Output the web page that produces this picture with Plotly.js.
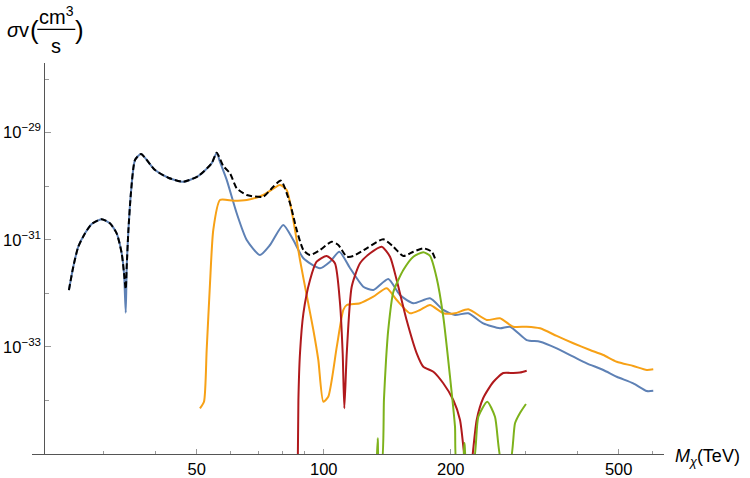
<!DOCTYPE html>
<html>
<head>
<meta charset="utf-8">
<script src="https://cdn.plot.ly/plotly-3.0.1.min.js"></script>
<style>
    html, body { margin: 0; padding: 0; background: #fff; }
    #chart { width: 750px; height: 478px; }
</style>
</head>
<body>
<div id="chart"></div>
<script>
// Cross section sigma*v (cm^3/s) against M_chi (TeV)

const blueMass = [24.9, 25.5, 26.2, 27.19, 28.19, 29.78, 31.15, 32.31, 33.21, 33.63, 33.95, 34.13, 34.43, 34.94, 35.71, 36.9,
    39.83, 42.82, 46.47, 50.44, 54.27, 55.77, 56.78, 58.9, 62.2, 65.7, 70.6, 74.6, 80.2, 84.7, 89.5, 98.0, 103.5, 108.9,
    115.4, 124.1, 131.1, 142.2, 151.6, 163.1, 178.6, 192.0, 204.7, 220.1, 238.8, 261.6, 276.3, 302.7, 325.6, 356.6,
    390.4, 420.1, 459.8, 494.7, 541.5, 582.7, 603.9];
const blueSv = [1.15e-32, 3.14e-32, 7.41e-32, 1.32e-31, 1.97e-31, 2.42e-31, 2.03e-31, 1.32e-31, 5.58e-32, 2.37e-32, 4.35e-33,
    3.14e-32, 1.40e-31, 7.80e-31, 3.08e-30, 3.99e-30, 2.00e-30, 1.44e-30, 1.21e-30, 1.55e-30, 2.68e-30, 4.23e-30,
    2.83e-30, 1.31e-30, 3.12e-31, 9.9e-32, 5.19e-32, 7.98e-32, 1.89e-31, 9.9e-32, 4.51e-32, 2.93e-32, 3.89e-32, 5.98e-32,
    2.97e-32, 1.33e-32, 1.15e-32, 1.85e-32, 9.31e-33, 6.52e-33, 8.07e-33, 4.89e-33, 3.94e-33, 4.24e-33, 2.75e-33,
    2.22e-33, 2.38e-33, 1.34e-33, 1.25e-33, 9.4e-34, 6.56e-34, 4.93e-34, 3.70e-34, 2.77e-34, 2.09e-34, 1.50e-34, 1.51e-34];

const orangeMass = [50.9, 52.03, 52.8, 53.77, 54.74, 56.78, 61.07, 65.7, 71.9, 78.8, 81.7, 84.7, 87.86, 91.9, 94.5, 97.1,
    99.8, 102.5, 107.4, 111.3, 113.4, 121.9, 131.1, 141.0, 148.9, 160.1, 169.1, 178.6, 192.0, 204.7, 220.1, 243.3,
    261.6, 281.3, 302.7, 325.6, 356.6, 390.4, 427.6, 459.8, 494.7, 541.5, 582.7, 603.9];
const orangeSv = [7.13e-35, 9.46e-35, 8.75e-34, 1.54e-32, 1.52e-31, 5.52e-31, 5.36e-31, 5.52e-31, 6.85e-31, 1.05e-30,
    8.49e-31, 2.34e-31, 4.19e-32, 6.52e-33, 2.07e-33, 5.69e-34, 9.46e-35, 1.17e-34, 1.01e-33, 4.89e-33, 6.05e-33,
    6.52e-33, 8.65e-33, 1.24e-32, 7.50e-33, 4.24e-33, 4.89e-33, 6.05e-33, 4.24e-33, 4.24e-33, 5.04e-33, 3.18e-33,
    3.42e-33, 2.38e-33, 2.38e-33, 2.22e-33, 1.60e-33, 1.17e-33, 8.75e-34, 7.05e-34, 5.28e-34, 4.40e-34, 3.70e-34, 3.81e-34];

const redMass = [86.6, 87.1, 87.86, 89.5, 92.8, 96.2, 101.6, 106.3, 109.3, 110.9, 111.9, 113.4, 116.5, 121.9, 128.8, 137.2,
    143.6, 148.9, 157.2, 166.1, 172.2, 181.9, 192.0, 202.8, 210.4, 216.2, 219.8, 224.3, 230.4, 238.8, 252.2, 266.4,
    281.3, 291.8, 302.7];
const redSv = [1e-36, 1.02e-34, 7.59e-34, 4.24e-33, 1.77e-32, 3.89e-32, 4.98e-32, 3.63e-32, 6.52e-33, 7.59e-34, 7.13e-35,
    7.59e-34, 1.33e-32, 3.63e-32, 5.58e-32, 7.41e-32, 4.83e-32, 1.77e-32, 3.18e-33, 7.59e-34, 4.27e-34, 3.44e-34,
    2.09e-34, 1.02e-34, 4.32e-35, 7e-36, 3e-36, 7e-36, 4.32e-35, 1.11e-34, 2.21e-34, 3.25e-34, 3.25e-34, 3.32e-34, 3.59e-34];

const greenMass = [133.5, 134.3, 135.2, 137.2, 138.9, 140.5, 142.2, 146.2, 154.4, 163.1, 172.2, 178.6, 185.2, 192.0,
    199.2, 204.7, 206.6, 213.3, 215.6, 217.9, 226.2, 232.5, 244.1, 254.6, 264.1, 276.3, 284.0, 291.8, 301.5];
const greenSv = [7e-36, 1.96e-35, 7e-36, 7e-36, 1.02e-34, 5.69e-34, 2.07e-33, 1.06e-32, 2.72e-32, 4.83e-32, 5.83e-32,
    4.98e-32, 1.93e-32, 3.66e-33, 2.77e-34, 3.24e-35, 7e-36, 7e-36, 1.60e-35, 7e-36, 7e-36, 4.97e-35, 9.46e-35,
    4.97e-35, 7e-36, 7e-36, 3.74e-35, 5.83e-35, 8.58e-35];

const totalMass = [24.9, 25.5, 26.2, 27.19, 28.19, 29.78, 31.15, 32.31, 33.21, 33.63, 33.95, 34.13, 34.43, 34.94, 35.71,
    36.9, 39.83, 42.82, 46.47, 50.44, 54.27, 55.77, 57.8, 59.97, 62.2, 65.7, 71.9, 75.95, 79.2, 83.2, 86.3, 89.5, 92.8,
    98.0, 104.4, 108.3, 113.4, 117.5, 126.4, 138.4, 146.2, 154.4, 163.1, 172.2, 180.3, 183.5];
const totalSv = [1.15e-32, 3.14e-32, 7.41e-32, 1.32e-31, 1.97e-31, 2.42e-31, 2.03e-31, 1.32e-31, 5.58e-32, 2.37e-32,
    1.2e-32, 3.14e-32, 1.40e-31, 7.80e-31, 3.08e-30, 3.99e-30, 2.00e-30, 1.44e-30, 1.21e-30, 1.55e-30, 2.68e-30,
    4.23e-30, 2.38e-30, 1.74e-30, 9.14e-31, 6.85e-31, 6.37e-31, 9.79e-31, 1.27e-30, 4.80e-31, 1.52e-31, 6.44e-32,
    5.19e-32, 6.44e-32, 9.2e-32, 7.98e-32, 4.83e-32, 4.98e-32, 6.93e-32, 1.02e-31, 7.41e-32, 4.98e-32, 5.98e-32,
    6.93e-32, 5.98e-32, 4.51e-32];

const xTickVals = [50, 100, 200, 500];
const xTickText = ['50', '100', '200', '500'];
const xMinorVals = [30, 40, 60, 70, 80, 90, 300, 400, 600];
const yTickVals = [1e-29, 1e-31, 1e-33];
const yTickText = ['10<sup>\u221229</sup>', '10<sup>\u221231</sup>', '10<sup>\u221233</sup>'];
const yMinorVals = [1e-28, 1e-30, 1e-32, 1e-34];

const curve = (x, y, color, dash) => ({
    x: x,
    y: y,
    type: 'scatter',
    mode: 'lines',
    line: { color: color, width: 2, dash: dash || 'solid', shape: 'spline', smoothing: 0.6 },
    hoverinfo: 'skip'
});

const traces = [
    curve(blueMass, blueSv, '#5E81B5'),
    curve(orangeMass, orangeSv, '#F7A116'),
    curve(redMass, redSv, '#B0191C'),
    curve(greenMass, greenSv, '#7DB21B'),
    curve(totalMass, totalSv, '#000000', '6px,3px')
];

// paper coords of the plot box: x 32..664 px, y 63..454 px
const px = v => (v - 32) / 632;
const py = v => (454 - v) / 391;

const labelFont = { family: 'Liberation Sans, Arial, sans-serif', size: 20, color: '#000' };

const layout = {
    width: 750,
    height: 478,
    margin: { l: 32, r: 86, t: 63, b: 24 },
    paper_bgcolor: '#fff',
    plot_bgcolor: '#fff',
    showlegend: false,
    font: { family: 'Liberation Sans, Arial, sans-serif', size: 16.5, color: '#000' },
    xaxis: {
        type: 'log',
        range: [1.3087, 2.8064],
        showgrid: false,
        zeroline: false,
        showline: true,
        linecolor: '#555',
        linewidth: 1,
        ticks: 'inside',
        ticklen: 5,
        tickcolor: '#999',
        tickvals: xTickVals,
        ticktext: xTickText,
        minor: { tickvals: xMinorVals, ticks: 'inside', ticklen: 3, tickcolor: '#999' }
    },
    yaxis: {
        type: 'log',
        range: [-35, -27.70],
        anchor: 'free',
        position: px(44.3),
        showgrid: false,
        zeroline: false,
        showline: true,
        linecolor: '#555',
        linewidth: 1,
        ticks: 'inside',
        ticklen: 6,
        tickcolor: '#999',
        tickvals: yTickVals,
        ticktext: yTickText,
        minor: { tickvals: yMinorVals, ticks: 'inside', ticklen: 4, tickcolor: '#999' }
    },
    annotations: [
        { xref: 'paper', yref: 'paper', x: px(673), y: 0, xanchor: 'left', yanchor: 'middle', yshift: -3,
          text: '<i>M</i><sub><i>\u03c7</i></sub>(TeV)', showarrow: false, font: { size: 18 } },
        { xref: 'paper', yref: 'paper', x: px(18.3), y: py(30), xanchor: 'center', yanchor: 'middle',
          text: '<i>\u03c3</i>v', showarrow: false, font: labelFont },
        { xref: 'paper', yref: 'paper', x: px(34), y: py(30), xanchor: 'center', yanchor: 'middle',
          text: '(', showarrow: false, font: { size: 26 } },
        { xref: 'paper', yref: 'paper', x: px(79), y: py(30), xanchor: 'center', yanchor: 'middle',
          text: ')', showarrow: false, font: { size: 26 } },
        { xref: 'paper', yref: 'paper', x: px(56.5), y: py(15), xanchor: 'center', yanchor: 'middle',
          text: 'cm<sup>3</sup>', showarrow: false, font: labelFont },
        { xref: 'paper', yref: 'paper', x: px(56), y: py(46), xanchor: 'center', yanchor: 'middle',
          text: 's', showarrow: false, font: labelFont }
    ],
    shapes: [
        { type: 'line', xref: 'paper', yref: 'paper', x0: px(37.3), x1: px(75.3), y0: py(29.3), y1: py(29.3),
          line: { color: '#000', width: 1.3 } }
    ]
};

Plotly.newPlot('chart', traces, layout, { displayModeBar: false, staticPlot: true });
</script>
</body>
</html>
